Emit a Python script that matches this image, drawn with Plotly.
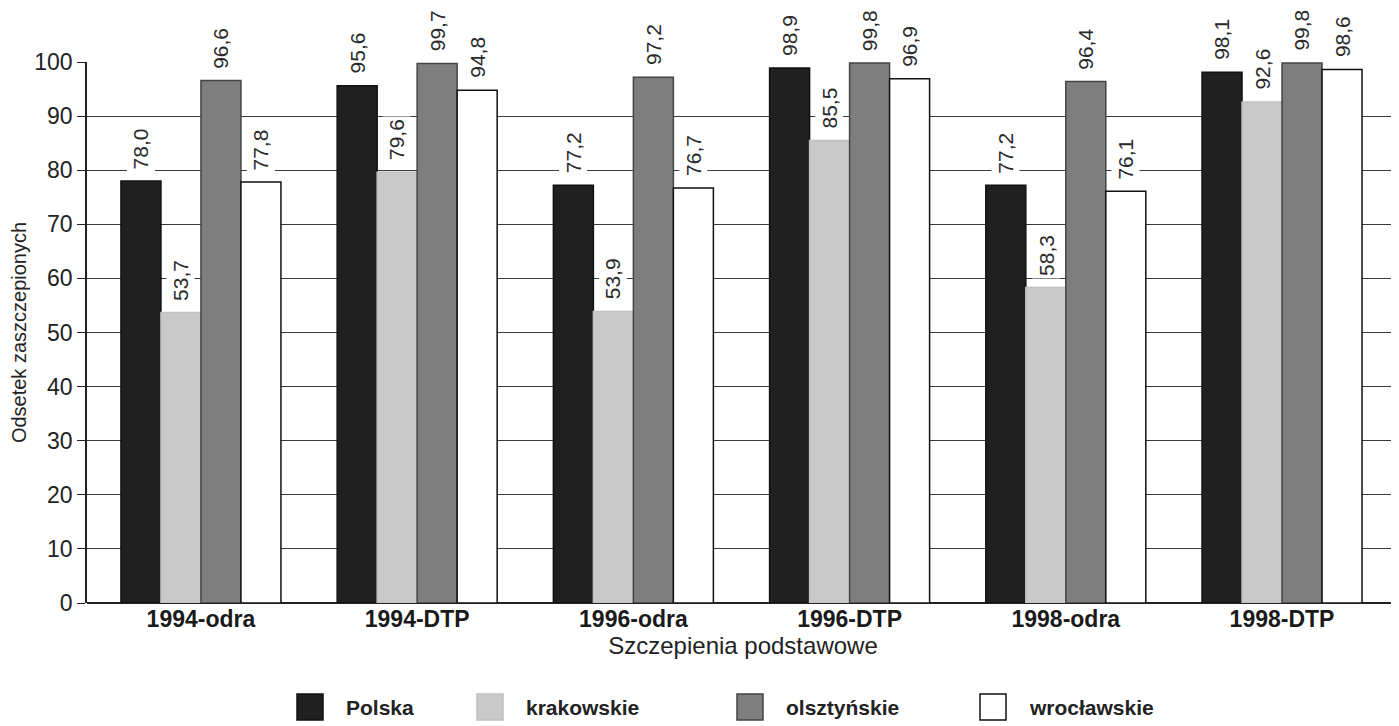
import plotly.graph_objects as go

categories = ["1994-odra", "1994-DTP", "1996-odra", "1996-DTP", "1998-odra", "1998-DTP"]
series_names = ["Polska", "krakowskie", "olsztyńskie", "wrocławskie"]
polska = [78.0, 95.6, 77.2, 98.9, 77.2, 98.1]
krakowskie = [53.7, 79.6, 53.9, 85.5, 58.3, 92.6]
olsztynskie = [96.6, 99.7, 97.2, 99.8, 96.4, 99.8]
wroclawskie = [77.8, 94.8, 76.7, 96.9, 76.1, 98.6]
series_values = [polska, krakowskie, olsztynskie, wroclawskie]

fills = ["#202020", "#c9c9c9", "#7e7e7e", "#ffffff"]
lines = ["#111111", "#c0c0c0", "#444444", "#111111"]

FONT = "Liberation Sans, Arial, sans-serif"
OFF = 8  # default page body margin
W, H = 1399 - OFF, 726 - OFF
ML, MR, MT, MB = 87 - OFF, 0, 62 - OFF, 123
PW, PH = W - ML - MR, H - MT - MB
bargap = 0.26

fig = go.Figure()
for name, vals, fc, lc in zip(series_names, series_values, fills, lines):
    fig.add_trace(go.Bar(
        x=categories, y=vals, name=name, showlegend=False,
        marker=dict(color=fc, line=dict(color=lc, width=1.5)),
    ))

annotations = []
bw = (1 - bargap) / len(series_names)
for si, vals in enumerate(series_values):
    off = (si - (len(series_names) - 1) / 2) * bw
    for ci, v in enumerate(vals):
        annotations.append(dict(
            x=ci + off, y=v, xref="x", yref="y",
            text=f"{v:.1f}".replace(".", ","), textangle=-90,
            showarrow=False, yanchor="bottom", xanchor="center", yshift=9,
            bgcolor="white", borderpad=2,
            font=dict(family=FONT, size=21, color="#2a2a2a"),
        ))

# custom legend (screen pixel positions converted to paper coordinates)
def px_x(p):
    return (p - OFF - ML) / PW

def px_y(p):
    return (H - MB - (p - OFF)) / PH

legend_x = [297, 477, 737, 980]
shapes = []
for name, fc, lc, lx in zip(series_names, fills, lines, legend_x):
    shapes.append(dict(type="rect", xref="paper", yref="paper",
                       x0=px_x(lx), x1=px_x(lx + 26), y0=px_y(720), y1=px_y(694),
                       fillcolor=fc, line=dict(color=lc if fc != "#ffffff" else "#111111", width=1.5)))
    annotations.append(dict(x=px_x(lx + 47), y=px_y(707), xref="paper", yref="paper",
                            text=name, showarrow=False, xanchor="left", yanchor="middle",
                            font=dict(family=FONT, size=21, color="#222222", weight="bold")))

fig.update_layout(
    barmode="group", bargap=bargap, bargroupgap=0,
    width=W, height=H,
    margin=dict(l=ML, r=MR, t=MT, b=MB),
    paper_bgcolor="white", plot_bgcolor="white",
    font=dict(family=FONT, size=20, color="#222222"),
    annotations=annotations, shapes=shapes,
    showlegend=False,
    xaxis=dict(
        range=[-0.527, 5.541], showgrid=False, ticks="", showline=False, automargin=False,
        tickfont=dict(family=FONT, size=23, color="#1a1a1a", weight="bold"),
        title=dict(text="Szczepienia podstawowe", font=dict(family=FONT, size=24, color="#222222"), standoff=6),
    ),
    yaxis=dict(
        range=[0, 100], dtick=10, showgrid=True, gridcolor="#3a3a3a", gridwidth=1.4,
        showline=True, linecolor="#222222", linewidth=1.6, automargin=False,
        ticks="outside", ticklen=8, tickcolor="#222222",
        zeroline=True, zerolinecolor="#222222", zerolinewidth=1.6,
        tickfont=dict(family=FONT, size=23, color="#222222"),
        title=dict(text="Odsetek zaszczepionych", font=dict(family=FONT, size=20, color="#222222"), standoff=4),
    ),
)
fig.write_html("out.html")
